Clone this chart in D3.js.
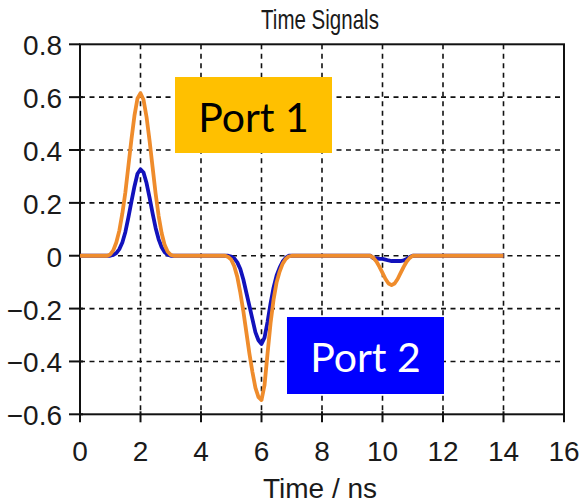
<!DOCTYPE html>
<html>
<head>
<meta charset="utf-8">
<script src="https://cdn.jsdelivr.net/npm/d3@7"></script>
<style>
  body { margin: 0; background: #fff; }
  svg { display: block; }
  .lbl { font-family: "Liberation Sans", "DejaVu Sans", sans-serif; fill: #1a1a1a; }
  .port { font-family: Lato, "Open Sans", sans-serif; }
</style>
</head>
<body>
<svg width="582" height="503"></svg>
<script>
/*Chart data*/
var timeNs = [0,
  0.9, 1.0, 1.1, 1.2, 1.3, 1.4, 1.5, 1.6, 1.7, 1.8, 1.9, 2.0, 2.1, 2.2, 2.3, 2.4, 2.5, 2.6, 2.7, 2.8, 2.9, 3.0, 3.1,
  4.8, 4.9, 5.0, 5.1, 5.2, 5.3, 5.4, 5.5, 5.6, 5.7, 5.8, 5.9, 6.0, 6.1, 6.2, 6.3, 6.4, 6.5, 6.6, 6.7, 6.8, 6.9, 7.0,
  9.5, 9.6, 9.7, 9.8, 9.9, 10.0, 10.1, 10.2, 10.3, 10.4, 10.5, 10.6, 10.7, 10.8, 10.9, 11.0, 11.1,
  14];

var port1 = [0,
  0, 0.005, 0.02, 0.05, 0.095, 0.16, 0.24, 0.34, 0.44, 0.53, 0.595, 0.615, 0.59, 0.525, 0.435, 0.335, 0.235, 0.15, 0.085, 0.04, 0.015, 0.003, 0,
  0, -0.005, -0.015, -0.04, -0.08, -0.14, -0.21, -0.29, -0.37, -0.44, -0.5, -0.535, -0.546, -0.49, -0.37, -0.255, -0.165, -0.1, -0.06, -0.03, -0.012, -0.003, 0,
  0, 0, -0.008, -0.022, -0.042, -0.065, -0.088, -0.105, -0.111, -0.105, -0.088, -0.065, -0.042, -0.022, -0.008, 0, 0,
  0];

var port2 = [0,
  0, 0, 0.003, 0.01, 0.025, 0.05, 0.09, 0.145, 0.205, 0.262, 0.31, 0.327, 0.315, 0.275, 0.22, 0.16, 0.105, 0.062, 0.032, 0.013, 0.004, 0, 0,
  0, 0, -0.003, -0.01, -0.025, -0.05, -0.09, -0.14, -0.19, -0.24, -0.29, -0.32, -0.334, -0.31, -0.25, -0.18, -0.12, -0.075, -0.045, -0.022, -0.008, 0, 0,
  0, 0, -0.01, -0.01, -0.012, -0.012, -0.015, -0.018, -0.02, -0.02, -0.02, -0.02, -0.018, -0.012, -0.005, 0, 0,
  0];

var xTicks = [0, 2, 4, 6, 8, 10, 12, 14, 16];
var yTicks = [-0.6, -0.4, -0.2, 0, 0.2, 0.4, 0.6, 0.8];

/*Layout*/
var svg = d3.select("svg");
var plotLeft = 80, plotRight = 564, plotTop = 44.3, plotBottom = 414.3;

var x = d3.scaleLinear().domain([0, 16]).range([plotLeft, plotRight]);
var y = d3.scaleLinear().domain([-0.6, 0.8]).range([plotBottom, plotTop]);

//Dashed grid
var grid = svg.append("g").attr("stroke", "#111").attr("stroke-width", 1.6).attr("stroke-dasharray", "5,4.5");
grid.selectAll("line.vx")
  .data(xTicks.filter(function(d) { return d > 0 && d < 16; }))
  .enter().append("line")
  .attr("x1", function(d) { return x(d); })
  .attr("x2", function(d) { return x(d); })
  .attr("y1", plotTop).attr("y2", plotBottom);
grid.selectAll("line.hy")
  .data(yTicks.filter(function(d) { return d > -0.6 && d < 0.8; }))
  .enter().append("line")
  .attr("y1", function(d) { return y(d); })
  .attr("y2", function(d) { return y(d); })
  .attr("x1", plotLeft).attr("x2", plotRight);

//Frame
svg.append("rect")
  .attr("x", plotLeft).attr("y", plotTop)
  .attr("width", plotRight - plotLeft).attr("height", plotBottom - plotTop)
  .attr("fill", "none").attr("stroke", "#111").attr("stroke-width", 2);

//Ticks
var ticks = svg.append("g").attr("stroke", "#111").attr("stroke-width", 2);
ticks.selectAll("line.xt").data(xTicks).enter().append("line")
  .attr("x1", function(d) { return x(d); })
  .attr("x2", function(d) { return x(d); })
  .attr("y1", function(d) { return d === 16 ? plotBottom : plotBottom - 3; })
  .attr("y2", plotBottom + 8);
ticks.selectAll("line.yt").data(yTicks).enter().append("line")
  .attr("y1", function(d) { return y(d); })
  .attr("y2", function(d) { return y(d); })
  .attr("x1", plotLeft - 11)
  .attr("x2", function(d) { return d === 0.8 ? plotLeft : plotLeft + 3; });

//Tick labels
svg.selectAll("text.xl").data(xTicks).enter().append("text")
  .attr("class", "lbl")
  .attr("x", function(d) { return x(d); })
  .attr("y", 461)
  .attr("text-anchor", "middle")
  .attr("font-size", 28)
  .text(function(d) { return d; });

svg.selectAll("text.yl").data(yTicks).enter().append("text")
  .attr("class", "lbl")
  .attr("x", 62)
  .attr("y", function(d) { return y(d) + 11; })
  .attr("text-anchor", "end")
  .attr("font-size", 28)
  .text(function(d) { return d === 0 ? "0" : d3.format(".1f")(d); });

//Title (condensed) and axis title
svg.append("text").attr("class", "lbl")
  .attr("transform", "translate(320,29) scale(0.76,1)")
  .attr("text-anchor", "middle").attr("font-size", 27)
  .text("Time Signals");

svg.append("text").attr("class", "lbl")
  .attr("x", 320).attr("y", 498)
  .attr("text-anchor", "middle").attr("font-size", 28)
  .text("Time / ns");

/*Signal lines*/
var line = d3.line()
  .x(function(d, i) { return x(timeNs[i]); })
  .y(function(d) { return y(d); });

svg.append("path")
  .attr("d", line(port2))
  .attr("fill", "none").attr("stroke", "#1212bc")
  .attr("stroke-width", 3.8).attr("stroke-linejoin", "round");

svg.append("path")
  .attr("d", line(port1))
  .attr("fill", "none").attr("stroke", "#ef8c2c")
  .attr("stroke-width", 3.8).attr("stroke-linejoin", "round");

/*Port labels*/
svg.append("rect").attr("x", 175).attr("y", 77).attr("width", 157).attr("height", 76).attr("fill", "#ffc000");
svg.append("text").attr("class", "port")
  .attr("x", 253.5).attr("y", 132).attr("text-anchor", "middle")
  .attr("font-size", 41).attr("fill", "#000")
  .text("Port 1");

svg.append("rect").attr("x", 287).attr("y", 317).attr("width", 157).attr("height", 77).attr("fill", "#0000ff");
svg.append("text").attr("class", "port")
  .attr("x", 365.5).attr("y", 372).attr("text-anchor", "middle")
  .attr("font-size", 41).attr("fill", "#fff")
  .text("Port 2");
</script>
</body>
</html>
